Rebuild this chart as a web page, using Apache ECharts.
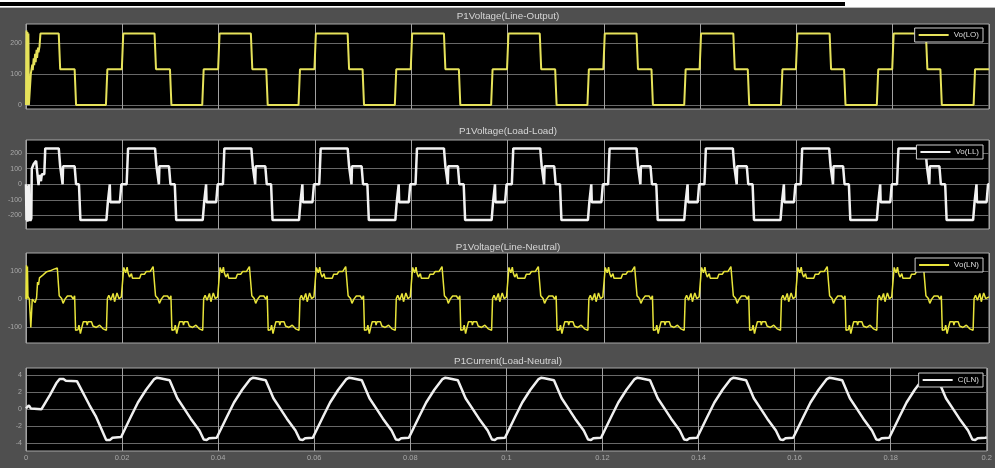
<!DOCTYPE html>
<html><head><meta charset="utf-8">
<script src="https://cdn.jsdelivr.net/npm/echarts@6/dist/echarts.min.js"></script>
<style>html,body{margin:0;padding:0;background:#fff}#c{width:995px;height:468px}</style>
</head><body><div id="c"></div>
<script>
const titles = ['P1Voltage(Line-Output)', 'P1Voltage(Load-Load)', 'P1Voltage(Line-Neutral)', 'P1Current(Load-Neutral)'];
const legendNames = ['Vo(LO)', 'Vo(LL)', 'Vo(LN)', 'C(LN)'];
const yTicksLO = [0, 100, 200];
const yTicksLL = [-200, -100, 0, 100, 200];
const yTicksLN = [-100, 0, 100];
const yTicksC = [-4, -2, 0, 2, 4];
const yRangeLO = [-13, 261];
const yRangeLL = [-287, 284];
const yRangeLN = [-155, 163];
const yRangeC = [-4.9, 4.85];
const timeRangeMs = [0, 200];
const timeStepMs = 20;

// time in ms, value
const voLO = [
[0,0],[0.1,240],[0.2,0],[0.3,235],[0.4,0],[0.5,230],[0.6,0],[0.9,0],[1,100],[1.2,105],[1.3,130],[1.4,112],[1.6,150],[1.7,128],[1.9,165],[2,138],[2.2,178],[2.3,152],[2.5,185],[2.6,170],[2.8,188],[3,230],[6.8,230],[7.1,115],[10.1,115],[10.4,0],[16.6,0],[16.9,115],[19.9,115],
[20.2,230],[26.7,230],[27,115],[29.9,115],[30.2,0],[36.6,0],[36.9,115],[39.9,115],
[40.2,230],[46.7,230],[47,115],[49.9,115],[50.2,0],[56.6,0],[56.9,115],[59.9,115],
[60.2,230],[66.8,230],[67.1,115],[69.9,115],[70.2,0],[76.6,0],[76.9,115],[79.9,115],
[80.2,230],[86.8,230],[87.1,115],[89.9,115],[90.2,0],[96.6,0],[96.9,115],[99.9,115],
[100.2,230],[106.7,230],[107,115],[109.9,115],[110.2,0],[116.6,0],[116.9,115],[119.9,115],
[120.2,230],[126.8,230],[127.1,115],[129.9,115],[130.2,0],[136.7,0],[137,115],[139.9,115],
[140.2,230],[146.9,230],[147.2,115],[149.9,115],[150.2,0],[156.8,0],[157.1,115],[159.9,115],
[160.2,230],[166.9,230],[167.2,115],[169.9,115],[170.2,0],[176.7,0],[177,115],[179.9,115],
[180.2,230],[186.9,230],[187.2,115],[189.9,115],[190.2,0],[196.8,0],[197.1,115],[200,115]
];

const voLL = [
[0,0],[0.1,-230],[0.2,-10],[0.3,-240],[0.4,-40],[0.5,-235],[0.6,0],[0.7,-220],[0.9,-235],[1.1,-220],[1.2,100],[1.5,100],[1.6,130],[2,130],[2.1,150],[2.5,150],[2.6,-5],[2.8,60],[3.1,20],[3.3,65],[3.8,65],[4,230],[6.8,230],[7.1,115],[7.5,115],[7.6,0],[7.7,115],[10.1,115],[10.4,0],[11,0],[11.3,-230],[16.7,-230],[17,-115],[17.3,-115],[17.4,0],[17.5,-115],[19.5,-115],[19.8,0],
[20.9,0],[21.2,230],[26.8,230],[27.1,115],[27.5,115],[27.6,0],[27.7,115],[29.7,115],[30,0],[30.9,0],[31.2,-230],[36.7,-230],[37,-115],[37.3,-115],[37.4,0],[37.5,-115],[39.5,-115],[39.8,0],
[40.9,0],[41.2,230],[46.8,230],[47.1,115],[47.5,115],[47.6,0],[47.7,115],[49.7,115],[50,0],[50.9,0],[51.2,-230],[56.7,-230],[57,-115],[57.3,-115],[57.4,0],[57.5,-115],[59.5,-115],[59.8,0],
[60.9,0],[61.2,230],[66.8,230],[67.1,115],[67.5,115],[67.6,0],[67.7,115],[69.7,115],[70,0],[70.9,0],[71.2,-230],[76.7,-230],[77,-115],[77.3,-115],[77.4,0],[77.5,-115],[79.5,-115],[79.8,0],
[80.9,0],[81.2,230],[86.8,230],[87.1,115],[87.5,115],[87.6,0],[87.7,115],[89.7,115],[90,0],[90.9,0],[91.2,-230],[96.7,-230],[97,-115],[97.3,-115],[97.4,0],[97.5,-115],[99.5,-115],[99.8,0],
[100.9,0],[101.2,230],[106.8,230],[107.1,115],[107.5,115],[107.6,0],[107.7,115],[109.7,115],[110,0],[110.9,0],[111.2,-230],[116.7,-230],[117,-115],[117.3,-115],[117.4,0],[117.5,-115],[119.5,-115],[119.8,0],
[120.9,0],[121.2,230],[126.8,230],[127.1,115],[127.5,115],[127.6,0],[127.7,115],[129.7,115],[130,0],[130.9,0],[131.2,-230],[136.7,-230],[137,-115],[137.3,-115],[137.4,0],[137.5,-115],[139.5,-115],[139.8,0],
[140.9,0],[141.2,230],[146.8,230],[147.1,115],[147.5,115],[147.6,0],[147.7,115],[149.7,115],[150,0],[150.9,0],[151.2,-230],[156.7,-230],[157,-115],[157.3,-115],[157.4,0],[157.5,-115],[159.5,-115],[159.8,0],
[160.9,0],[161.2,230],[166.8,230],[167.1,115],[167.5,115],[167.6,0],[167.7,115],[169.7,115],[170,0],[170.9,0],[171.2,-230],[176.7,-230],[177,-115],[177.3,-115],[177.4,0],[177.5,-115],[179.5,-115],[179.8,0],
[180.9,0],[181.2,230],[186.8,230],[187.1,115],[187.5,115],[187.6,0],[187.7,115],[189.7,115],[190,0],[190.9,0],[191.2,-230],[196.7,-230],[197,-115],[197.3,-115],[197.4,0],[197.5,-115],[199.5,-115],[199.8,0],[200,0]
];

const voLN = [
[0,0],[0.1,120],[0.2,0],[0.3,115],[0.4,10],[0.7,0],[1,-100],[1.2,-100],[1.3,0],[1.7,2],[1.9,-12],[2.2,5],[2.4,60],[2.6,50],[2.8,75],[3.2,72],[3.5,85],[3.9,90],[4.3,97],[5,100],[5.7,105],[6.5,110],[6.8,105],[6.9,12],[7.4,2],[7.7,-15],[8.1,0],[8.6,11],[9.4,11],[9.8,0],[10.1,12],[10.3,-110],[10.8,-108],[11,-92],[11.3,-122],[11.6,-100],[11.9,-80],[12.6,-80],[12.7,-92],[12.9,-80],[13.6,-80],[13.9,-95],[14.6,-100],[15.3,-92],[16,-105],[16.7,-110],[16.9,2],[17.2,14],[17.6,-4],[18.1,20],[18.4,-9],[18.9,22],[19.3,2],[19.8,8],
[20,10],[20.3,112],[20.5,114],[20.7,93],[21,113],[21.2,92],[21.5,78],[21.9,90],[22.1,74],[23.6,74],[23.9,88],[24.3,95],[24.6,88],[25,98],[25.8,98],[26.4,115],[26.7,112],[26.9,12],[27.4,2],[27.7,-15],[28.1,0],[28.6,11],[29.4,11],[29.8,0],[30.1,12],[30.3,-110],[30.8,-108],[31,-92],[31.3,-122],[31.6,-100],[31.9,-80],[32.6,-80],[32.7,-92],[32.9,-80],[33.6,-80],[33.9,-95],[34.6,-100],[35.3,-92],[36,-105],[36.7,-110],[36.9,2],[37.2,14],[37.6,-4],[38.1,20],[38.4,-9],[38.9,22],[39.3,2],[39.8,8],
[40,10],[40.3,112],[40.5,114],[40.7,93],[41,113],[41.2,92],[41.5,78],[41.9,90],[42.1,74],[43.6,74],[43.9,88],[44.3,95],[44.6,88],[45,98],[45.8,98],[46.4,115],[46.7,112],[46.9,12],[47.4,2],[47.7,-15],[48.1,0],[48.6,11],[49.4,11],[49.8,0],[50.1,12],[50.3,-110],[50.8,-108],[51,-92],[51.3,-122],[51.6,-100],[51.9,-80],[52.6,-80],[52.7,-92],[52.9,-80],[53.6,-80],[53.9,-95],[54.6,-100],[55.3,-92],[56,-105],[56.7,-110],[56.9,2],[57.2,14],[57.6,-4],[58.1,20],[58.4,-9],[58.9,22],[59.3,2],[59.8,8],
[60,10],[60.3,112],[60.5,114],[60.7,93],[61,113],[61.2,92],[61.5,78],[61.9,90],[62.1,74],[63.6,74],[63.9,88],[64.3,95],[64.6,88],[65,98],[65.8,98],[66.4,115],[66.7,112],[66.9,12],[67.4,2],[67.7,-15],[68.1,0],[68.6,11],[69.4,11],[69.8,0],[70.1,12],[70.3,-110],[70.8,-108],[71,-92],[71.3,-122],[71.6,-100],[71.9,-80],[72.6,-80],[72.7,-92],[72.9,-80],[73.6,-80],[73.9,-95],[74.6,-100],[75.3,-92],[76,-105],[76.7,-110],[76.9,2],[77.2,14],[77.6,-4],[78.1,20],[78.4,-9],[78.9,22],[79.3,2],[79.8,8],
[80,10],[80.3,112],[80.5,114],[80.7,93],[81,113],[81.2,92],[81.5,78],[81.9,90],[82.1,74],[83.6,74],[83.9,88],[84.3,95],[84.6,88],[85,98],[85.8,98],[86.4,115],[86.7,112],[86.9,12],[87.4,2],[87.7,-15],[88.1,0],[88.6,11],[89.4,11],[89.8,0],[90.1,12],[90.3,-110],[90.8,-108],[91,-92],[91.3,-122],[91.6,-100],[91.9,-80],[92.6,-80],[92.7,-92],[92.9,-80],[93.6,-80],[93.9,-95],[94.6,-100],[95.3,-92],[96,-105],[96.7,-110],[96.9,2],[97.2,14],[97.6,-4],[98.1,20],[98.4,-9],[98.9,22],[99.3,2],[99.8,8],
[100,10],[100.3,112],[100.5,114],[100.7,93],[101,113],[101.2,92],[101.5,78],[101.9,90],[102.1,74],[103.6,74],[103.9,88],[104.3,95],[104.6,88],[105,98],[105.8,98],[106.4,115],[106.7,112],[106.9,12],[107.4,2],[107.7,-15],[108.1,0],[108.6,11],[109.4,11],[109.8,0],[110.1,12],[110.3,-110],[110.8,-108],[111,-92],[111.3,-122],[111.6,-100],[111.9,-80],[112.6,-80],[112.7,-92],[112.9,-80],[113.6,-80],[113.9,-95],[114.6,-100],[115.3,-92],[116,-105],[116.7,-110],[116.9,2],[117.2,14],[117.6,-4],[118.1,20],[118.4,-9],[118.9,22],[119.3,2],[119.8,8],
[120,10],[120.3,112],[120.5,114],[120.7,93],[121,113],[121.2,92],[121.5,78],[121.9,90],[122.1,74],[123.6,74],[123.9,88],[124.3,95],[124.6,88],[125,98],[125.8,98],[126.4,115],[126.7,112],[126.9,12],[127.4,2],[127.7,-15],[128.1,0],[128.6,11],[129.4,11],[129.8,0],[130.1,12],[130.3,-110],[130.8,-108],[131,-92],[131.3,-122],[131.6,-100],[131.9,-80],[132.6,-80],[132.7,-92],[132.9,-80],[133.6,-80],[133.9,-95],[134.6,-100],[135.3,-92],[136,-105],[136.7,-110],[136.9,2],[137.2,14],[137.6,-4],[138.1,20],[138.4,-9],[138.9,22],[139.3,2],[139.8,8],
[140,10],[140.3,112],[140.5,114],[140.7,93],[141,113],[141.2,92],[141.5,78],[141.9,90],[142.1,74],[143.6,74],[143.9,88],[144.3,95],[144.6,88],[145,98],[145.8,98],[146.4,115],[146.7,112],[146.9,12],[147.4,2],[147.7,-15],[148.1,0],[148.6,11],[149.4,11],[149.8,0],[150.1,12],[150.3,-110],[150.8,-108],[151,-92],[151.3,-122],[151.6,-100],[151.9,-80],[152.6,-80],[152.7,-92],[152.9,-80],[153.6,-80],[153.9,-95],[154.6,-100],[155.3,-92],[156,-105],[156.7,-110],[156.9,2],[157.2,14],[157.6,-4],[158.1,20],[158.4,-9],[158.9,22],[159.3,2],[159.8,8],
[160,10],[160.3,112],[160.5,114],[160.7,93],[161,113],[161.2,92],[161.5,78],[161.9,90],[162.1,74],[163.6,74],[163.9,88],[164.3,95],[164.6,88],[165,98],[165.8,98],[166.4,115],[166.7,112],[166.9,12],[167.4,2],[167.7,-15],[168.1,0],[168.6,11],[169.4,11],[169.8,0],[170.1,12],[170.3,-110],[170.8,-108],[171,-92],[171.3,-122],[171.6,-100],[171.9,-80],[172.6,-80],[172.7,-92],[172.9,-80],[173.6,-80],[173.9,-95],[174.6,-100],[175.3,-92],[176,-105],[176.7,-110],[176.9,2],[177.2,14],[177.6,-4],[178.1,20],[178.4,-9],[178.9,22],[179.3,2],[179.8,8],
[180,10],[180.3,112],[180.5,114],[180.7,93],[181,113],[181.2,92],[181.5,78],[181.9,90],[182.1,74],[183.6,74],[183.9,88],[184.3,95],[184.6,88],[185,98],[185.8,98],[186.4,115],[186.7,112],[186.9,12],[187.4,2],[187.7,-15],[188.1,0],[188.6,11],[189.4,11],[189.8,0],[190.1,12],[190.3,-110],[190.8,-108],[191,-92],[191.3,-122],[191.6,-100],[191.9,-80],[192.6,-80],[192.7,-92],[192.9,-80],[193.6,-80],[193.9,-95],[194.6,-100],[195.3,-92],[196,-105],[196.7,-110],[196.9,2],[197.2,14],[197.6,-4],[198.1,20],[198.4,-9],[198.9,22],[199.3,2],[200,8]
];

const cLN = [
[0,0.1],[0.4,0.1],[0.6,0.45],[0.8,0.45],[1,0.1],[1.3,0],[3.2,0],[5,1.7],[6.3,3.05],[7,3.55],[7.8,3.55],[8.3,3.35],[10.6,3.3],[13.2,0.5],[14.6,-0.9],[16.7,-3.6],[17.5,-3.6],[18,-3.35],[19.8,-3.25],
[20,-3.3],[21.8,-0.9],[23.3,0.8],[25,2.3],[26.7,3.55],[27.2,3.7],[27.9,3.65],[28.3,3.45],[29.9,3.4],[31.5,1.3],[32.9,0.1],[34.3,-1.1],[36.1,-2.5],[37,-3.55],[37.6,-3.6],[38.1,-3.4],[39.7,-3.35],
[40,-3.3],[41.8,-0.9],[43.3,0.8],[45,2.3],[46.7,3.55],[47.2,3.7],[47.9,3.65],[48.3,3.45],[49.9,3.4],[51.5,1.3],[52.9,0.1],[54.3,-1.1],[56.1,-2.5],[57,-3.55],[57.6,-3.6],[58.1,-3.4],[59.7,-3.35],
[60,-3.3],[61.8,-0.9],[63.3,0.8],[65,2.3],[66.7,3.55],[67.2,3.7],[67.9,3.65],[68.3,3.45],[69.9,3.4],[71.5,1.3],[72.9,0.1],[74.3,-1.1],[76.1,-2.5],[77,-3.55],[77.6,-3.6],[78.1,-3.4],[79.7,-3.35],
[80,-3.3],[81.8,-0.9],[83.3,0.8],[85,2.3],[86.7,3.55],[87.2,3.7],[87.9,3.65],[88.3,3.45],[89.9,3.4],[91.5,1.3],[92.9,0.1],[94.3,-1.1],[96.1,-2.5],[97,-3.55],[97.6,-3.6],[98.1,-3.4],[99.7,-3.35],
[100,-3.3],[101.8,-0.9],[103.3,0.8],[105,2.3],[106.7,3.55],[107.2,3.7],[107.9,3.65],[108.3,3.45],[109.9,3.4],[111.5,1.3],[112.9,0.1],[114.3,-1.1],[116.1,-2.5],[117,-3.55],[117.6,-3.6],[118.1,-3.4],[119.7,-3.35],
[120,-3.3],[121.8,-0.9],[123.3,0.8],[125,2.3],[126.7,3.55],[127.2,3.7],[127.9,3.65],[128.3,3.45],[129.9,3.4],[131.5,1.3],[132.9,0.1],[134.3,-1.1],[136.1,-2.5],[137,-3.55],[137.6,-3.6],[138.1,-3.4],[139.7,-3.35],
[140,-3.3],[141.8,-0.9],[143.3,0.8],[145,2.3],[146.7,3.55],[147.2,3.7],[147.9,3.65],[148.3,3.45],[149.9,3.4],[151.5,1.3],[152.9,0.1],[154.3,-1.1],[156.1,-2.5],[157,-3.55],[157.6,-3.6],[158.1,-3.4],[159.7,-3.35],
[160,-3.3],[161.8,-0.9],[163.3,0.8],[165,2.3],[166.7,3.55],[167.2,3.7],[167.9,3.65],[168.3,3.45],[169.9,3.4],[171.5,1.3],[172.9,0.1],[174.3,-1.1],[176.1,-2.5],[177,-3.55],[177.6,-3.6],[178.1,-3.4],[179.7,-3.35],
[180,-3.3],[181.8,-0.9],[183.3,0.8],[185,2.3],[186.7,3.55],[187.2,3.7],[187.9,3.65],[188.3,3.45],[189.9,3.4],[191.5,1.3],[192.9,0.1],[194.3,-1.1],[196.1,-2.5],[197,-3.55],[197.6,-3.6],[198.1,-3.4],[199.7,-3.35],[200,-3.3]
];

const seriesData = [voLO, voLL, voLN, cLN];
const yTicks = [yTicksLO, yTicksLL, yTicksLN, yTicksC];
const yRanges = [yRangeLO, yRangeLL, yRangeLN, yRangeC];

// layout (pixels)
const gridBoxes = [
  {left: 26, top: 24, width: 963, height: 85},
  {left: 26, top: 140, width: 963, height: 89},
  {left: 26, top: 253, width: 963, height: 90},
  {left: 26, top: 368, width: 963, height: 83}
];
const titleTops = [11, 126, 242, 356];
const legendTops = [28, 145, 258, 373];
const lineColors = ['#e6e25a', '#f2f2f2', '#e8e43a', '#f0f0f0'];
const lineWidths = [2, 2.5, 1.5, 2.5];
const FONT = 'Liberation Sans, Arial, sans-serif';

const chart = echarts.init(document.getElementById('c'), null, {renderer: 'canvas'});
const option = {
  backgroundColor: '#4f4f4f',
  animation: false,
  graphic: [
    {type: 'rect', shape: {x: 0, y: 0, width: 995, height: 7}, style: {fill: '#ffffff'}, silent: true},
    {type: 'rect', shape: {x: 0, y: 2, width: 845, height: 4}, style: {fill: '#000000'}, silent: true},
    {type: 'rect', shape: {x: 0, y: 7, width: 995, height: 1}, style: {fill: '#bdbdbd'}, silent: true}
  ],
  title: titles.map((t, i) => ({
    text: t, left: 508, top: titleTops[i], textAlign: 'center', padding: 0,
    textStyle: {color: '#d6d6d6', fontSize: 9.8, fontWeight: 'normal', fontFamily: FONT, lineHeight: 10}
  })),
  legend: legendNames.map((n, i) => ({
    data: [n], right: 12, top: legendTops[i], orient: 'horizontal',
    icon: 'rect', itemWidth: 30, itemHeight: 2, itemGap: 4,
    padding: [3, 4, 3, 4], backgroundColor: '#000', borderColor: '#cfcfcf', borderWidth: 1, borderRadius: 0,
    textStyle: {color: '#dddddd', fontSize: 8, fontFamily: FONT}, selectedMode: false
  })),
  grid: gridBoxes.map(b => Object.assign({show: true, backgroundColor: '#000', borderColor: '#a8a8a8', borderWidth: 1}, b)),
  xAxis: gridBoxes.map((b, i) => ({
    type: 'value', gridIndex: i, min: timeRangeMs[0], max: timeRangeMs[1], interval: timeStepMs,
    axisLine: {show: false}, axisTick: {show: false},
    axisLabel: {show: i === 3, color: '#a8a8a8', fontSize: 7.5, fontFamily: FONT, margin: 3,
      formatter: v => String(+(v / 1000).toFixed(2))},
    splitLine: {show: true, lineStyle: {color: '#a2a2a2', width: 1}}
  })),
  yAxis: gridBoxes.map((b, i) => ({
    type: 'value', gridIndex: i, min: yRanges[i][0], max: yRanges[i][1],
    axisLine: {show: false},
    axisTick: {show: false, customValues: yTicks[i]},
    axisLabel: {customValues: yTicks[i], color: '#a8a8a8', fontSize: 7, fontFamily: FONT, margin: 4},
    splitLine: {show: true, lineStyle: {color: '#686868', width: 1}}
  })),
  series: seriesData.map((d, i) => ({
    name: legendNames[i], type: 'line', xAxisIndex: i, yAxisIndex: i, data: d,
    showSymbol: false, symbol: 'none', clip: true,
    lineStyle: {color: lineColors[i], width: lineWidths[i]}, itemStyle: {color: lineColors[i]}
  }))
};
chart.setOption(option);
</script>
</body></html>
